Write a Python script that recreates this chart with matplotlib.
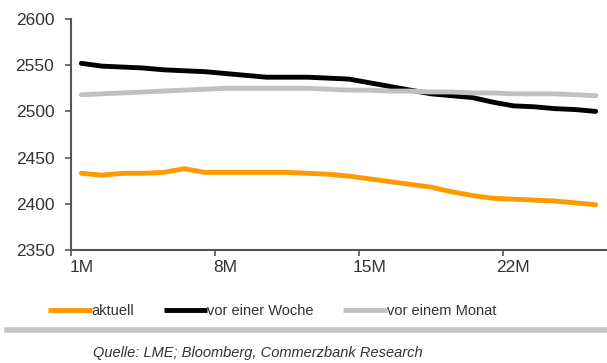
import matplotlib
matplotlib.use("Agg")
import matplotlib.pyplot as plt
from matplotlib.lines import Line2D
import numpy as np

# -------------------------
# Data: LME forward curve (USD/t), 1M .. 26M
# -------------------------
tenors = [f"{m}M" for m in range(1, 27)]
aktuell = [2433, 2431, 2433, 2433, 2434, 2438, 2434, 2434, 2434, 2434,
           2434, 2433, 2432, 2430, 2427, 2424, 2421, 2418, 2413, 2409,
           2406, 2405, 2404, 2403, 2401, 2399]
vor_woche = [2552, 2549, 2548, 2547, 2545, 2544, 2543, 2541, 2539, 2537,
             2537, 2537, 2536, 2535, 2531, 2527, 2523, 2519, 2517, 2515,
             2510, 2506, 2505, 2503, 2502, 2500]
vor_monat = [2518, 2519, 2520, 2521, 2522, 2523, 2524, 2525, 2525, 2525,
             2525, 2525, 2524, 2523, 2523, 2522, 2522, 2521, 2521, 2520,
             2520, 2519, 2519, 2519, 2518, 2517]
y_ticks = [2350, 2400, 2450, 2500, 2550, 2600]
label_every = 7

series = [
    ("aktuell", aktuell, "#FF9900"),
    ("vor einer Woche", vor_woche, "#000000"),
    ("vor einem Monat", vor_monat, "#C0C0C0"),
]

plt.rcParams["font.family"] = ["Liberation Sans", "DejaVu Sans"]

W, H = 607, 363
fig = plt.figure(figsize=(W / 100, H / 100), dpi=100)
ax = fig.add_axes([71 / W, 1 - 250 / H, (606 - 71) / W, (250 - 19) / H])

x = np.arange(len(tenors))
handles = []
for name, vals, col in series:
    h, = ax.plot(x, vals, color=col, lw=3.5, solid_capstyle="round",
                 solid_joinstyle="round", label=name)
    handles.append(h)

ax.set_xlim(-0.5, len(tenors) - 0.5)
ax.set_ylim(y_ticks[0], y_ticks[-1])
ax.set_yticks(y_ticks)
ax.tick_params(axis="y", direction="out", length=4, width=1.2, color="#555555",
               labelsize=12.5, labelcolor="#333333", pad=8)

# tick marks sit on category boundaries, labels in the middle of a category
ax.set_xticks(np.arange(-0.5, len(tenors), label_every))
ax.set_xticklabels([])
ax.set_xticks(np.arange(0, len(tenors), label_every), minor=True)
ax.set_xticklabels(tenors[::label_every], minor=True)
ax.tick_params(axis="x", which="major", direction="out", length=4, width=1.2,
               color="#555555")
ax.tick_params(axis="x", which="minor", length=0, labelsize=12.5,
               labelcolor="#333333", pad=7)

for s in ("top", "right"):
    ax.spines[s].set_visible(False)
for s in ("left", "bottom"):
    ax.spines[s].set_color("#555555")
    ax.spines[s].set_linewidth(1.5)

leg = fig.legend(handles=handles, loc="center", bbox_to_anchor=(272 / W, 1 - 311 / H),
                 ncol=3, frameon=False, fontsize=10.5, handlelength=3.0,
                 handletextpad=0.0, columnspacing=2.0, labelcolor="#333333")
for lh in leg.get_lines():
    lh.set_linewidth(3.5)
    lh.set_solid_capstyle("butt")

# separator bar and source line
fig.add_artist(Line2D([7 / W, 1.0], [1 - 330 / H] * 2, transform=fig.transFigure,
                      color="#C4C4C4", lw=4))
fig.text(258 / W, 1 - 353 / H, "Quelle: LME; Bloomberg, Commerzbank Research",
         ha="center", va="center", fontsize=10.5, style="italic", color="#333333")

fig.savefig("out.png", dpi=100)
